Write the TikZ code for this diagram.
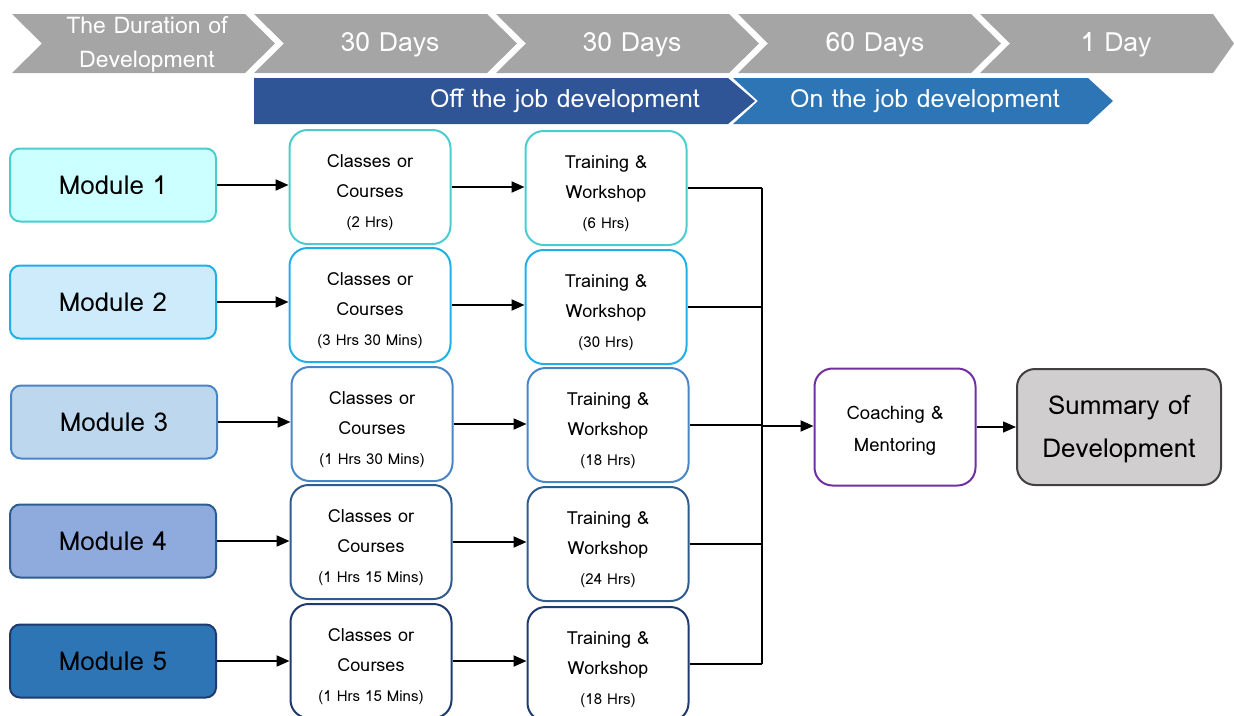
\documentclass[tikz,border=0pt]{standalone}
\usepackage{fontspec}
\setmainfont{Loma}
\usepackage{tikz}
\usetikzlibrary{arrows.meta,positioning}
\definecolor{durgray}{HTML}{A5A5A5}
\definecolor{offblue}{HTML}{2F5597}
\definecolor{onblue}{HTML}{2E75B6}
\definecolor{rowa}{HTML}{4BCDD0}
\definecolor{rowb}{HTML}{1FB0E8}
\definecolor{rowc}{HTML}{4A86C6}
\definecolor{rowd}{HTML}{2F5C8F}
\definecolor{rowe}{HTML}{1F3A6E}
\definecolor{moda}{HTML}{CCFFFF}
\definecolor{modb}{HTML}{CDEBFA}
\definecolor{modc}{HTML}{BDD7EE}
\definecolor{modd}{HTML}{8FAADC}
\definecolor{mode}{HTML}{2E75B6}
\definecolor{coachpurple}{HTML}{7030A0}
\definecolor{sumgray}{HTML}{D0CECE}
\definecolor{sumborder}{HTML}{404040}
\newcommand{\hrs}[1]{{\fontsize{15}{29}\selectfont(#1)}}
\newcommand{\topstrut}{\rule{0pt}{25pt}}
\newcommand{\classtxt}[1]{\topstrut Classes or\\Courses\\\hrs{#1}}
\newcommand{\traintxt}[1]{\topstrut Training \&\\Workshop\\\hrs{#1}}
\newcommand{\chevron}[3]{\fill[durgray] (#1,14) -- (#2,14) -- ++(#3,29.5) -- ++(-#3,29.5) -- (#1,73) -- ++(30,-29.5) -- cycle;}

\begin{document}
\begin{tikzpicture}[x=1pt, y=-1pt,
  durtxt/.style={text=white, font=\fontsize{26.5}{30}\selectfont, inner sep=0pt},
  bartxt/.style={text=white, font=\fontsize{25}{28}\selectfont, inner sep=0pt},
  modbox/.style={rectangle, rounded corners=10pt, line width=2pt, minimum width=206pt,
                 minimum height=73pt, font=\fontsize{26}{30}\selectfont},
  stepbox/.style={rectangle, rounded corners=18pt, line width=2pt, fill=white, minimum width=161pt,
                  minimum height=114pt, align=center, font=\fontsize{18}{30}\selectfont},
  arr/.style={-{Triangle[length=13pt,width=11pt]}, line width=2pt},
  link/.style={line width=2pt}]
\useasboundingbox (0,0) rectangle (1234,715);
% time line
\chevron{12}{245}{30}
\chevron{254}{487}{30}
\chevron{496}{729}{30}
\chevron{738}{971}{30}
\chevron{980}{1213}{21}
\node[durtxt, align=center, font=\fontsize{23}{34}\selectfont] (dur0) at (147,44) {The Duration of\\Development};
\node[durtxt] (dur1) at (390,45) {30 Days};
\node[durtxt] (dur2) at (632,45) {30 Days};
\node[durtxt] (dur3) at (875,45) {60 Days};
\node[durtxt] (dur4) at (1116,45) {1 Day};
\fill[offblue] (254,78) -- (728,78) -- (755,101) -- (728,124) -- (254,124) -- cycle;
\fill[onblue] (733,78) -- (1088,78) -- (1113,101) -- (1088,124) -- (733,124) -- (758,101) -- cycle;
\node[bartxt] (off) at (565,101) {Off the job development};
\node[bartxt] (on) at (925,101) {On the job development};
% modules
\node[modbox, draw=rowa, fill=moda] (m1) at (113,185) {Module 1};
\node[modbox, draw=rowb, fill=modb] (m2) at (113,302) {Module 2};
\node[modbox, draw=rowc, fill=modc] (m3) at (114,422) {Module 3};
\node[modbox, draw=rowd, fill=modd] (m4) at (113,541) {Module 4};
\node[modbox, draw=rowe, fill=mode] (m5) at (113,661) {Module 5};
% classes
\node[stepbox, draw=rowa] (c1) at (370,187) {\classtxt{2 Hrs}};
\node[stepbox, draw=rowb] (c2) at (370,305) {\classtxt{3 Hrs 30 Mins}};
\node[stepbox, draw=rowc] (c3) at (372,424) {\classtxt{1 Hrs 30 Mins}};
\node[stepbox, draw=rowd] (c4) at (371,542) {\classtxt{1 Hrs 15 Mins}};
\node[stepbox, draw=rowe] (c5) at (371,661) {\classtxt{1 Hrs 15 Mins}};
% training
\node[stepbox, draw=rowa] (t1) at (606,188) {\traintxt{6 Hrs}};
\node[stepbox, draw=rowb] (t2) at (606,307) {\traintxt{30 Hrs}};
\node[stepbox, draw=rowc] (t3) at (608,425) {\traintxt{18 Hrs}};
\node[stepbox, draw=rowd] (t4) at (608,544) {\traintxt{24 Hrs}};
\node[stepbox, draw=rowe] (t5) at (608,664) {\traintxt{18 Hrs}};
% coaching and summary
\node[stepbox, draw=coachpurple, minimum height=117pt, font=\fontsize{18.5}{32}\selectfont] (coach) at (895,427)
  {\rule{0pt}{20pt}Coaching \&\\Mentoring};
\node[stepbox, draw=sumborder, fill=sumgray, minimum width=204pt, minimum height=116pt,
      font=\fontsize{26}{43}\selectfont] (sum) at (1119,427) {\rule{0pt}{24pt}Summary of\\Development};
\coordinate (bus) at (762,426);
\draw[arr] (m1.east) -- (m1.east -| c1.west);
\draw[arr] (m2.east) -- (m2.east -| c2.west);
\draw[arr] (m3.east) -- (m3.east -| c3.west);
\draw[arr] (m4.east) -- (m4.east -| c4.west);
\draw[arr] (m5.east) -- (m5.east -| c5.west);
\draw[arr] (c1.east) -- (c1.east -| t1.west);
\draw[arr] (c2.east) -- (c2.east -| t2.west);
\draw[arr] (c3.east) -- (c3.east -| t3.west);
\draw[arr] (c4.east) -- (c4.east -| t4.west);
\draw[arr] (c5.east) -- (c5.east -| t5.west);
\draw[link] (t1.east) -- (t1.east -| bus);
\draw[link] (t2.east) -- (t2.east -| bus);
\draw[link] (t3.east) -- (t3.east -| bus);
\draw[link] (t4.east) -- (t4.east -| bus);
\draw[link] (t5.east) -- (t5.east -| bus);
\draw[link] (t1.east -| bus) -- (t5.east -| bus);
\draw[arr] (bus) -- (bus -| coach.west);
\draw[arr, line width=1.4pt] (coach.east) -- (coach.east -| sum.west);
\end{tikzpicture}
\end{document}
